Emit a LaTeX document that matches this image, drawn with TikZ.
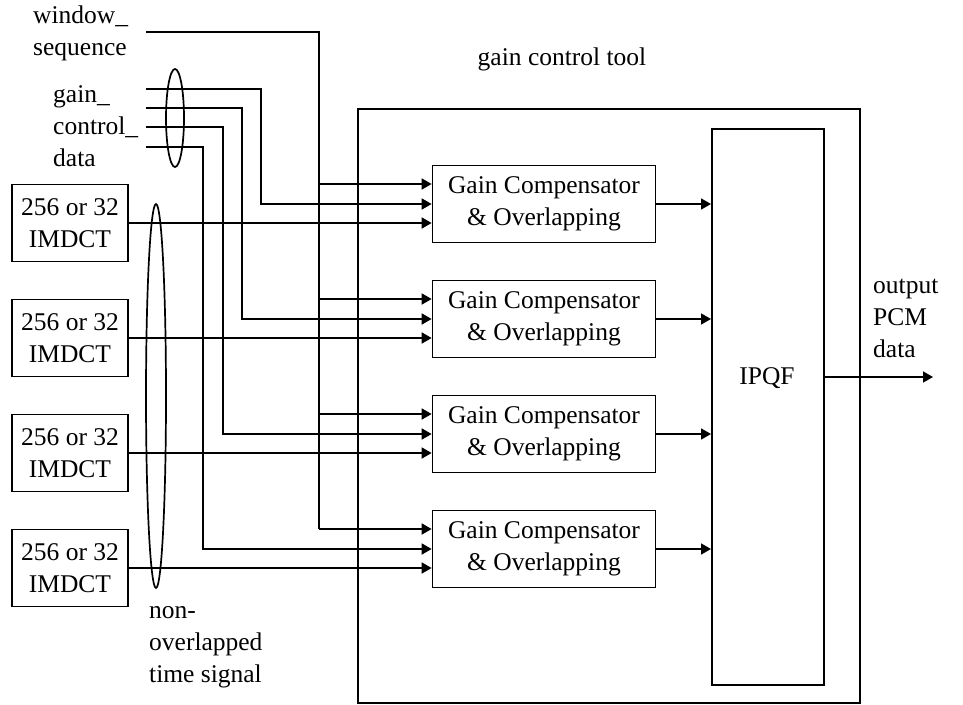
\documentclass[tikz,border=0pt]{standalone}
\usepackage{fontspec}
\setmainfont{Liberation Serif}
\usetikzlibrary{arrows.meta,calc,shapes.geometric}
\begin{document}
\begin{tikzpicture}[x=1pt,y=-1pt,
  every node/.style={font=\fontsize{25.5}{32}\selectfont, inner sep=0pt},
  line/.style={line width=1.7pt},
  arr/.style={line width=1.7pt, -{Triangle[length=10pt,width=11pt]}},
  imdct/.style={draw, line width=1.7pt, minimum width=116pt, minimum height=77pt, align=center},
  gcbox/.style={draw, line width=1.7pt, minimum width=223pt, minimum height=77pt, align=center},
  grp/.style={draw, line width=1.7pt, ellipse, inner sep=0pt},
  lbl/.style={align=left, anchor=base west}
  ]
\useasboundingbox (0,0) rectangle (963,704);

% outer tool box and IPQF
\node[draw, line width=1.7pt, minimum width=502pt, minimum height=594pt, anchor=north west] (tool) at (357,108) {};
\node[draw, line width=1.7pt, minimum width=112pt, minimum height=556pt, anchor=north west] (ipqf) at (711,128) {};
\node (ipqft) at (767,378) {IPQF};
\node[anchor=base] (tooltxt) at (562,65) {gain control tool};

% gain compensator boxes
\node[gcbox] (gc1) at (544,204) {Gain Compensator\\\& Overlapping};
\node[gcbox] (gc2) at (544,319) {Gain Compensator\\\& Overlapping};
\node[gcbox] (gc3) at (544,434) {Gain Compensator\\\& Overlapping};
\node[gcbox] (gc4) at (544,549) {Gain Compensator\\\& Overlapping};

% IMDCT boxes
\node[imdct] (im1) at (70,223) {256 or 32\\IMDCT};
\node[imdct] (im2) at (70,338) {256 or 32\\IMDCT};
\node[imdct] (im3) at (70,453) {256 or 32\\IMDCT};
\node[imdct] (im4) at (70,568) {256 or 32\\IMDCT};

% labels (base = baseline of last line)
\node[lbl] (wlbl) at (33,55) {window\_\\sequence};
\node[lbl] (glbl) at (53,166) {gain\_\\control\_\\data};
\node[lbl] (nlbl) at (149,682) {non-\\overlapped\\time signal};
\node[lbl] (olbl) at (873,357) {output\\PCM\\data};

% window_sequence bus
\coordinate (win) at (146,32);
\coordinate (wbus) at (319,32);
\foreach \k in {1,2,3,4} {
  \coordinate (t\k) at ($(gc\k.west)+(0,-20)$);
  \draw[arr] (wbus |- t\k) -- (t\k);
}
\draw[line] (win) -- (wbus) -- (wbus |- t4);

% gain control data lines
\coordinate (g1) at (146,89);
\coordinate (g2) at (146,108);
\coordinate (g3) at (146,127);
\coordinate (g4) at (146,147);
\draw[arr] (g1) -- ++(115,0) |- (gc1.west);
\draw[arr] (g2) -- ++(96,0) |- (gc2.west);
\draw[arr] (g3) -- ++(77,0) |- (gc3.west);
\draw[arr] (g4) -- ++(57,0) |- (gc4.west);

% IMDCT to gain compensators, compensators to IPQF
\foreach \k in {1,2,3,4} {
  \draw[arr] (im\k.east) -- (im\k.east -| gc\k.west);
  \draw[arr] (gc\k.east) -- (gc\k.east -| ipqf.west);
}

% output
\coordinate (out) at (933,377);
\draw[arr] (ipqf.east |- out) -- (out);

% grouping ellipses
\node[grp, minimum width=18pt, minimum height=98pt] (gcgroup) at (175,118) {};
\node[grp, minimum width=20pt, minimum height=384pt] (tsgroup) at (156,396) {};
\end{tikzpicture}
\end{document}
